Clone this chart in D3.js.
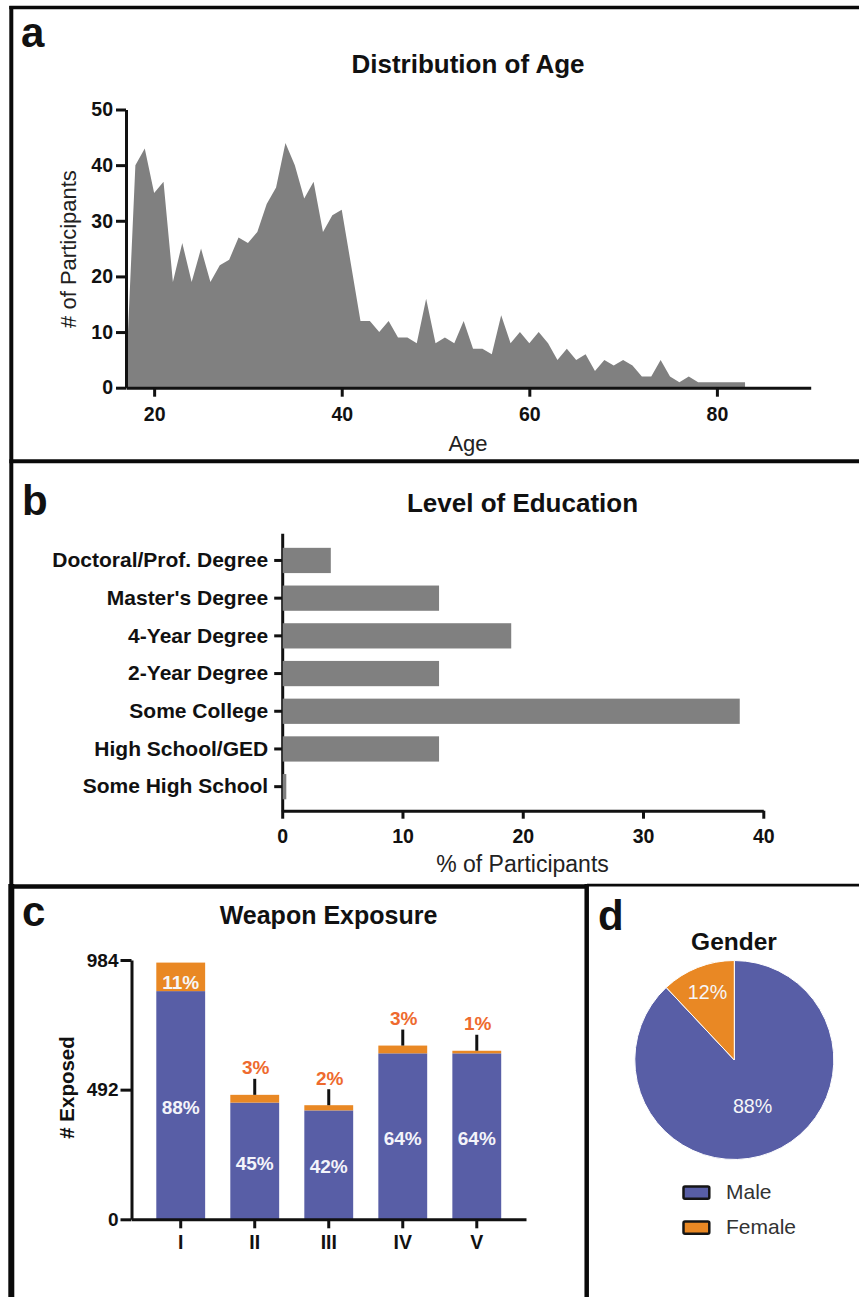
<!DOCTYPE html>
<html>
<head>
<meta charset="utf-8">
<script src="https://cdn.jsdelivr.net/npm/d3@7"></script>
<style>
  html, body { margin: 0; padding: 0; background: #fff; }
  svg { display: block; font-family: "Liberation Sans", Arial, Helvetica, sans-serif; }
</style>
</head>
<body>
<svg id="fig" width="859" height="1297"></svg>
<script>
// ---------- data ----------
// (a) participants per year of age
const ages = [17,18,19,20,21,22,23,24,25,26,27,28,29,30,31,32,33,34,35,36,37,38,39,40,
              41,42,43,44,45,46,47,48,49,50,51,52,53,54,55,56,57,58,59,60,61,62,63,64,
              65,66,67,68,69,70,71,72,73,74,75,76,77,78,79,80,81,82,83];
const ageCounts = [2,40,43,35,37,19,26,19,25,19,22,23,27,26,28,33,36,44,40,34,37,28,31,32,
                   22,12,12,10,12,9,9,8,16,8,9,8,12,7,7,6,13,8,10,8,10,8,5,7,
                   5,6,3,5,4,5,4,2,2,5,2,1,2,1,1,1,1,1,1];
const ageTicksX = [20, 40, 60, 80];
const ageTicksY = [0, 10, 20, 30, 40, 50];

// (b) highest level of education, % of participants
const eduLevels = ["Doctoral/Prof. Degree", "Master's Degree", "4-Year Degree", "2-Year Degree",
                   "Some College", "High School/GED", "Some High School"];
const eduPercent = [4, 13, 19, 13, 38, 13, 0.3];
const eduTicks = [0, 10, 20, 30, 40];

// (c) weapon exposure by class, % of all participants
const weaponClasses = ["I", "II", "III", "IV", "V"];
const participantsTotal = 984;
const malePct = [88, 45, 42, 64, 64];
const femalePct = [11, 3, 2, 3, 1];
const exposedTicks = [0, 492, 984];

// (d) gender split
const genderLabels = ["Male", "Female"];
const genderPct = [88, 12];

// ---------- styling ----------
const BLUE = "#585ea6";
const ORANGE = "#e98824";
const ORANGE_TEXT = "#ee6a2e";
const GREY = "#808080";
const INK = "#111";

const svg = d3.select("#fig");
svg.append("rect").attr("width", 859).attr("height", 1297).attr("fill", "#fff");

function addText(parent, o) {
  const t = parent.append("text")
    .attr("font-size", o.size)
    .attr("font-weight", o.weight || "normal")
    .attr("text-anchor", o.anchor || "start")
    .attr("fill", o.fill || INK)
    .text(o.text);
  if (o.rotate) {
    t.attr("transform", `translate(${o.x},${o.y}) rotate(${o.rotate})`);
  } else {
    t.attr("x", o.x).attr("y", o.y);
  }
  if (o.dy) t.attr("dy", o.dy);
  return t;
}

function styleAxis(g, size) {
  g.attr("font-family", null).attr("font-size", size).attr("font-weight", "bold");
  g.select(".domain").attr("stroke", INK).attr("stroke-width", 3);
  g.selectAll(".tick line").attr("stroke", INK).attr("stroke-width", 3);
  g.selectAll(".tick text").attr("fill", INK);
}

// ---------- (a) Distribution of Age ----------
const ageData = ages.map((a, i) => ({ age: a, n: ageCounts[i] }));
const xA = d3.scaleLinear().domain([17, 90]).range([126, 810.7]);
const yA = d3.scaleLinear().domain([0, 50]).range([387.7, 109.5]);

const gA = svg.append("g");
gA.append("path")
  .datum(ageData)
  .attr("fill", GREY)
  .attr("d", d3.area().x(d => xA(d.age)).y0(yA(0)).y1(d => yA(d.n)));

gA.append("g").attr("transform", `translate(0,${yA(0)})`)
  .call(d3.axisBottom(xA).tickValues(ageTicksX).tickSize(9).tickSizeOuter(0).tickPadding(10))
  .call(g => styleAxis(g, 19.5));
gA.append("g").attr("transform", `translate(${xA(17)},0)`)
  .call(d3.axisLeft(yA).tickValues(ageTicksY).tickSize(10).tickSizeOuter(0).tickPadding(3))
  .call(g => styleAxis(g, 19.5));

addText(gA, { x: 468, y: 72.5, text: "Distribution of Age", size: 26, weight: "bold", anchor: "middle" });
addText(gA, { x: 468, y: 451, text: "Age", size: 22, anchor: "middle", fill: "#222" });
addText(gA, { x: 75.5, y: 249, text: "# of Participants", size: 22, anchor: "middle", fill: "#222", rotate: -90 });
addText(gA, { x: 21, y: 46.5, text: "a", size: 42, weight: "bold" });

// ---------- (b) Level of Education ----------
const xB = d3.scaleLinear().domain([0, 40]).range([282.2, 763.3]);
const yB = d3.scaleBand().domain(eduLevels).range([533.3, 810.7])
  .paddingInner(0.33).paddingOuter(0.344).align(0.56);

const gB = svg.append("g");
gB.append("g").attr("transform", `translate(0,${yB.range()[1]})`)
  .call(d3.axisBottom(xB).tickValues(eduTicks).tickSize(8).tickSizeOuter(0).tickPadding(10))
  .call(g => styleAxis(g, 19.5));
gB.append("g").attr("transform", `translate(${xB(0)},0)`)
  .call(d3.axisLeft(yB).tickSize(8).tickSizeOuter(0).tickPadding(6))
  .call(g => styleAxis(g, 21));

// bars sit over the axis line so that the smallest one stays visible
gB.selectAll("rect.edu")
  .data(eduLevels)
  .join("rect")
  .attr("class", "edu")
  .attr("x", xB(0) + 0.5)
  .attr("y", d => yB(d))
  .attr("width", (d, i) => xB(eduPercent[i]) - xB(0))
  .attr("height", yB.bandwidth())
  .attr("fill", GREY);

addText(gB, { x: 522.5, y: 511.5, text: "Level of Education", size: 26, weight: "bold", anchor: "middle" });
addText(gB, { x: 522.5, y: 872, text: "% of Participants", size: 23, anchor: "middle", fill: "#222" });
addText(gB, { x: 22, y: 515, text: "b", size: 42, weight: "bold" });

// ---------- (c) Weapon Exposure ----------
const xC = d3.scaleBand().domain(weaponClasses).range([131.5, 526]).paddingInner(0.34).paddingOuter(0.335);
const yC = d3.scaleLinear().domain([0, participantsTotal]).range([1219.3, 960]);
const stackRows = weaponClasses.map((c, i) => {
  const m = malePct[i] / 100 * participantsTotal;
  const f = femalePct[i] / 100 * participantsTotal;
  return { cls: c, male: m, female: f, mp: malePct[i], fp: femalePct[i] };
});

const gC = svg.append("g");
const bw = xC.bandwidth();
gC.selectAll("rect.male").data(stackRows).join("rect")
  .attr("class", "male")
  .attr("x", d => xC(d.cls)).attr("width", bw)
  .attr("y", d => yC(d.male)).attr("height", d => yC(0) - yC(d.male))
  .attr("fill", BLUE);
gC.selectAll("rect.female").data(stackRows).join("rect")
  .attr("class", "female")
  .attr("x", d => xC(d.cls)).attr("width", bw)
  .attr("y", d => yC(d.male + d.female)).attr("height", d => yC(d.male) - yC(d.male + d.female))
  .attr("fill", ORANGE);

// male share inside the blue segment
gC.selectAll("text.mp").data(stackRows).join("text")
  .attr("class", "mp")
  .attr("x", d => xC(d.cls) + bw / 2)
  .attr("y", d => (yC(0) + yC(d.male)) / 2 + 2)
  .attr("dy", "0.35em")
  .attr("text-anchor", "middle").attr("font-size", 19).attr("font-weight", "bold")
  .attr("fill", "#f4f4fa")
  .text(d => d.mp + "%");

// female share: inside when the segment is tall enough, otherwise above with a leader line
stackRows.forEach(d => {
  const top = yC(d.male + d.female);
  const segH = yC(d.male) - top;
  const cx = xC(d.cls) + bw / 2;
  if (segH > 20) {
    addText(gC, { x: cx, y: top + segH / 2 + 5, dy: "0.35em", text: d.fp + "%", size: 19,
                  weight: "bold", anchor: "middle", fill: "#f6f6f6" });
  } else {
    gC.append("line").attr("x1", cx).attr("x2", cx).attr("y1", top).attr("y2", top - 16)
      .attr("stroke", INK).attr("stroke-width", 3);
    addText(gC, { x: cx + 1, y: top - 20.5, text: d.fp + "%", size: 19, weight: "bold",
                  anchor: "middle", fill: ORANGE_TEXT });
  }
});

gC.append("g").attr("transform", `translate(0,${yC(0)})`)
  .call(d3.axisBottom(xC).tickSize(9).tickSizeOuter(0).tickPadding(7))
  .call(g => styleAxis(g, 19.5));
gC.append("g").attr("transform", `translate(${xC.range()[0]},0)`)
  .call(d3.axisLeft(yC).tickValues(exposedTicks).tickSize(11).tickSizeOuter(0).tickPadding(2))
  .call(g => styleAxis(g, 19));

addText(gC, { x: 328.5, y: 924, text: "Weapon Exposure", size: 25, weight: "bold", anchor: "middle" });
addText(gC, { x: 74, y: 1087.5, text: "# Exposed", size: 20.5, weight: "bold", anchor: "middle", rotate: -90 });
addText(gC, { x: 22, y: 926, text: "c", size: 42, weight: "bold" });

// ---------- (d) Gender ----------
const gD = svg.append("g");
const pieCx = 734.3, pieCy = 1060, R = 99.5;
const genderData = genderLabels.map((l, i) => ({ label: l, pct: genderPct[i] }));
const pie = d3.pie().sort(null).value(d => d.pct);
const arcs = pie(genderData);
const arc = d3.arc().innerRadius(0).outerRadius(R);
const colour = d3.scaleOrdinal().domain(genderLabels).range([BLUE, ORANGE]);
const labelRadius = { Male: 0.5 * R, Female: 0.73 * R };

const gPie = gD.append("g").attr("transform", `translate(${pieCx},${pieCy})`);
gPie.selectAll("path").data(arcs).join("path")
  .attr("d", arc)
  .attr("fill", d => colour(d.data.label))
  .attr("stroke", "#fff").attr("stroke-width", 1);
gPie.selectAll("text").data(arcs).join("text")
  .attr("transform", d => {
    const r = labelRadius[d.data.label];
    const a = (d.startAngle + d.endAngle) / 2;
    return `translate(${Math.sin(a) * r},${-Math.cos(a) * r})`;
  })
  .attr("dy", "0.35em")
  .attr("text-anchor", "middle").attr("font-size", 19.7).attr("fill", "#f6f6f8")
  .text(d => d.data.pct + "%");

addText(gD, { x: 734, y: 950, text: "Gender", size: 24.5, weight: "bold", anchor: "middle" });
addText(gD, { x: 598, y: 930, text: "d", size: 42, weight: "bold" });

const legend = gD.append("g");
genderLabels.forEach((l, i) => {
  const y = 1185.7 + i * 35;
  legend.append("rect").attr("x", 683.5).attr("y", y + 0.8).attr("width", 25.8).attr("height", 12.2)
    .attr("rx", 1.5).attr("fill", colour(l)).attr("stroke", "#151515").attr("stroke-width", 2.5);
  addText(legend, { x: 726, y: y + 13.5, text: l, size: 21, fill: "#333" });
});

// ---------- panel frames ----------
const frame = svg.append("g").attr("stroke", "#0a0a0a").attr("fill", "none");
frame.append("line").attr("x1", 9.3).attr("x2", 859).attr("y1", 7.6).attr("y2", 7.6).attr("stroke-width", 3.5);
frame.append("line").attr("x1", 11.3).attr("x2", 11.3).attr("y1", 6).attr("y2", 886).attr("stroke-width", 4);
frame.append("line").attr("x1", 11.3).attr("x2", 11.3).attr("y1", 884).attr("y2", 1297).attr("stroke-width", 6);
frame.append("line").attr("x1", 9.3).attr("x2", 859).attr("y1", 461.3).attr("y2", 461.3).attr("stroke-width", 4);
frame.append("line").attr("x1", 9.3).attr("x2", 587).attr("y1", 886.6).attr("y2", 886.6).attr("stroke-width", 4.5);
frame.append("line").attr("x1", 587).attr("x2", 859).attr("y1", 885.2).attr("y2", 885.2).attr("stroke-width", 2.7);
frame.append("line").attr("x1", 586.7).attr("x2", 586.7).attr("y1", 884).attr("y2", 1297).attr("stroke-width", 4.5);
</script>
</body>
</html>
